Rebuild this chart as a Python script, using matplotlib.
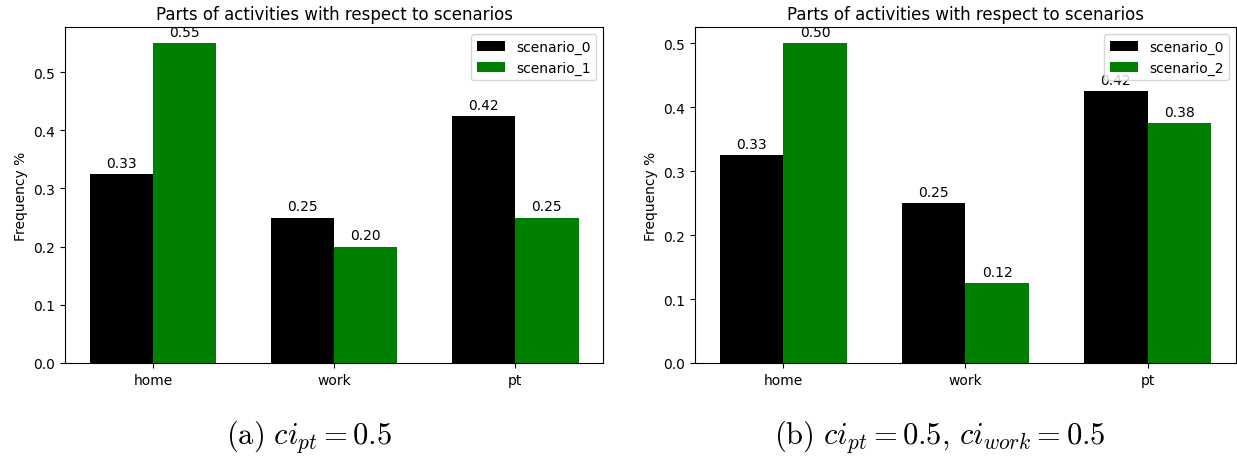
import numpy as np
import matplotlib
matplotlib.use("Agg")
import matplotlib.pyplot as plt

# activities and frequencies per scenario
activities = ["home", "work", "pt"]
scenario_0 = [0.325, 0.25, 0.425]
scenario_1 = [0.55, 0.20, 0.25]
scenario_2 = [0.50, 0.125, 0.375]
captions = [r"$\mathrm{(a)}\ ci_{pt} = 0.5$",
            r"$\mathrm{(b)}\ ci_{pt} = 0.5,\, ci_{work} = 0.5$"]

plt.rcParams["mathtext.fontset"] = "cm"

width = 0.35


def autolabel(ax, rects):
    for rect in rects:
        height = rect.get_height()
        ax.annotate('{:.2f}'.format(height),
                    xy=(rect.get_x() + rect.get_width() / 2, height),
                    xytext=(0, 3), textcoords="offset points",
                    ha='center', va='bottom')


def plot_panel(ax, base, other, other_name):
    x = np.arange(len(activities))
    r0 = ax.bar(x - width / 2, base, width, label="scenario_0", color="black")
    r1 = ax.bar(x + width / 2, other, width, label=other_name, color="green")
    ax.set_ylabel("Frequency %")
    ax.set_title("Parts of activities with respect to scenarios")
    ax.set_xticks(x)
    ax.set_xticklabels(activities)
    autolabel(ax, r0)
    autolabel(ax, r1)
    ax.legend(loc="upper right")


fig = plt.figure(figsize=(12.37, 4.6), dpi=100)
ax1 = fig.add_axes([0.0526, 0.2087, 0.4349, 0.7304])
ax2 = fig.add_axes([0.5618, 0.2087, 0.4373, 0.7304])

plot_panel(ax1, scenario_0, scenario_1, "scenario_1")
plot_panel(ax2, scenario_0, scenario_2, "scenario_2")

fig.text(0.25, 0.05, captions[0], fontsize=22, ha="center", va="center")
fig.text(0.76, 0.05, captions[1], fontsize=22, ha="center", va="center")

fig.savefig("out.png", dpi=100)
